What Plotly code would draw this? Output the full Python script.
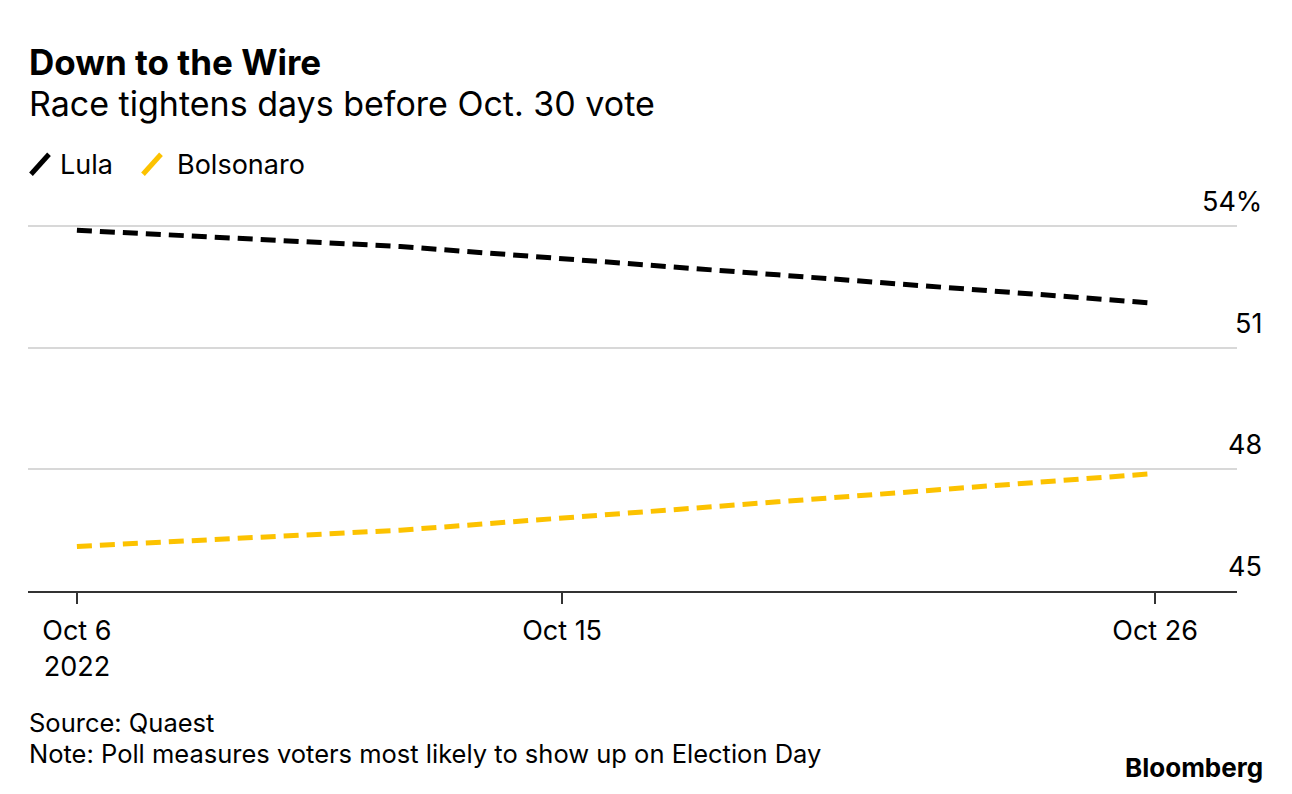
import plotly.graph_objects as go
from datetime import datetime, timedelta

# ---- data ----
dates = ["2022-10-06", "2022-10-12", "2022-10-19", "2022-10-26"]
lula = [53.9, 53.5, 52.8, 52.1]
bolsonaro = [46.1, 46.5, 47.2, 47.9]
x_tickvals = ["2022-10-06", "2022-10-15", "2022-10-26"]
x_ticktext = ["Oct 6<br>2022", "Oct 15", "Oct 26"]
y_ticks = [45, 48, 51, 54]
y_ticktext = ["45", "48", "51", "54%"]

W, H = 1292, 794
YMIN, YMAX = 45, 54.4
PX_PER_UNIT = (591 - 226) / 9.0
L, R, B = 28, 1237, 591
T = B - (YMAX - YMIN) * PX_PER_UNIT
FONT = "Inter"
LULA_C = "#000000"
BOLS_C = "#FCC200"


def px(x):
    return (x - L) / (R - L)


def py(y):
    return (B - y) / (B - T)


d0 = datetime(2022, 10, 6)
d1 = datetime(2022, 10, 26)
xr = [d0 - timedelta(days=0.907), d1 + timedelta(days=1.519)]

fig = go.Figure()
fig.add_trace(go.Scatter(x=dates, y=lula, mode="lines", name="Lula",
                         line=dict(color=LULA_C, width=5, dash="15px,8px"),
                         showlegend=False))
fig.add_trace(go.Scatter(x=dates, y=bolsonaro, mode="lines", name="Bolsonaro",
                         line=dict(color=BOLS_C, width=5, dash="15px,8px"),
                         showlegend=False))

annotations = []
annotations.append(dict(text="<b>Down to the Wire</b>", x=px(27), y=py(62), xref="paper", yref="paper",
                        xanchor="left", yanchor="middle", showarrow=False,
                        font=dict(family=FONT, size=35, color="#000")))
annotations.append(dict(text="Race tightens days before Oct. 30 vote", x=px(27), y=py(103), xref="paper",
                        yref="paper", xanchor="left", yanchor="middle", showarrow=False,
                        font=dict(family=FONT, size=34, color="#000")))
annotations.append(dict(text="Lula", x=px(58), y=py(164), xref="paper", yref="paper",
                        xanchor="left", yanchor="middle", showarrow=False,
                        font=dict(family=FONT, size=27, color="#000")))
annotations.append(dict(text="Bolsonaro", x=px(175), y=py(164), xref="paper", yref="paper",
                        xanchor="left", yanchor="middle", showarrow=False,
                        font=dict(family=FONT, size=27, color="#000")))
for v, t in zip(y_ticks, y_ticktext):
    annotations.append(dict(text=t, x=px(1264), y=v, xref="paper", yref="y",
                            xanchor="right", yanchor="bottom", yshift=6, showarrow=False,
                            font=dict(family=FONT, size=27, color="#000")))
annotations.append(dict(text="Source: Quaest", x=px(27), y=py(723), xref="paper", yref="paper",
                        xanchor="left", yanchor="middle", showarrow=False,
                        font=dict(family=FONT, size=25.5, color="#000")))
annotations.append(dict(text="Note: Poll measures voters most likely to show up on Election Day",
                        x=px(27), y=py(754), xref="paper", yref="paper",
                        xanchor="left", yanchor="middle", showarrow=False,
                        font=dict(family=FONT, size=25.5, color="#000")))
annotations.append(dict(text="<b>Bloomberg</b>", x=px(1265), y=py(768), xref="paper", yref="paper",
                        xanchor="right", yanchor="middle", showarrow=False,
                        font=dict(family=FONT, size=26, color="#000")))

shapes = [
    dict(type="line", xref="paper", yref="paper", x0=px(31), y0=py(174), x1=px(49), y1=py(154),
         line=dict(color=LULA_C, width=5)),
    dict(type="line", xref="paper", yref="paper", x0=px(143), y0=py(174), x1=px(161), y1=py(154),
         line=dict(color=BOLS_C, width=5)),
]

fig.update_layout(
    width=W, height=H,
    margin=dict(l=L, r=W - R, t=T, b=H - B),
    paper_bgcolor="white", plot_bgcolor="white",
    annotations=annotations, shapes=shapes,
    showlegend=False,
    xaxis=dict(type="date", range=xr, tickvals=x_tickvals, ticktext=x_ticktext,
               showgrid=False, zeroline=False, showline=True, linecolor="#333", linewidth=2,
               ticks="outside", ticklen=11, tickwidth=1.5, tickcolor="#333",
               tickfont=dict(family=FONT, size=27, color="#000"), ticklabelstandoff=4),
    yaxis=dict(range=[YMIN, YMAX], tickvals=y_ticks, showticklabels=False, showgrid=True,
               gridcolor="#d8d8d8", gridwidth=2, zeroline=False, showline=False, ticks=""),
)

fig.write_html("out.html")
